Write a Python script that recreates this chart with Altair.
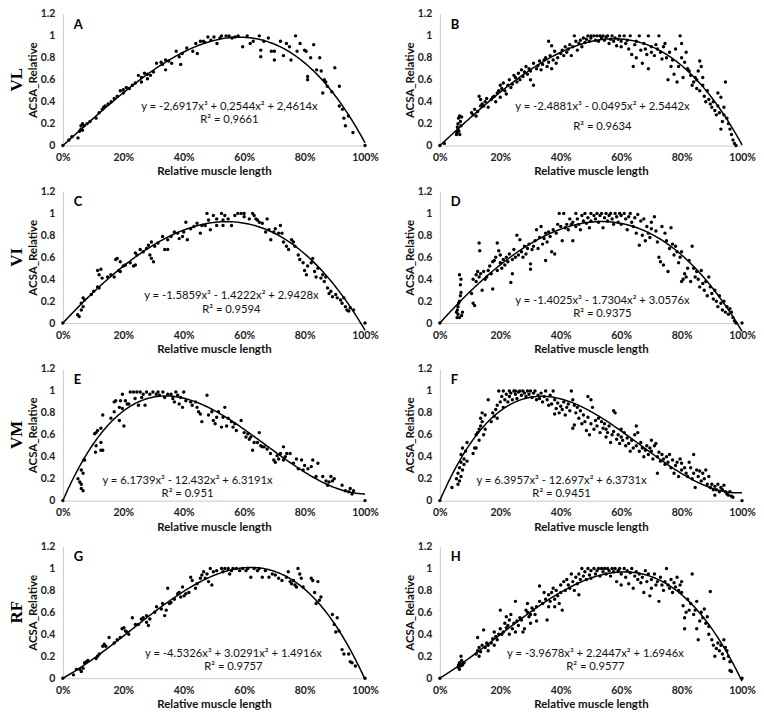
import altair as alt
import pandas as pd

# ---------------- data (x in % of muscle length, y = ACSA relative) ----------------
A_POINTS = [(0,0),(2,0.05),(3,0.08),(5,0.07),(5.5,0.13),(6,0.15),(6,0.18),(6.5,0.14),(6.5,0.2),(7,0.18),(8,0.2),(9,0.22),
            (11,0.25),(12,0.3),(13,0.33),(13.5,0.35),(14,0.36),(15,0.38),(16,0.4),(17,0.43),(18,0.45),(19,0.5),(20,0.48),
            (20,0.51),(21,0.53),(22,0.52),(23,0.55),(24,0.57),(25,0.64),(26,0.58),(26,0.62),(27,0.66),(28,0.61),(28,0.65),
            (29,0.64),(30,0.67),(31,0.75),(32.5,0.76),(33,0.74),(34,0.69),(34,0.78),(35,0.77),(36,0.75),(37.5,0.86),
            (38.5,0.81),(39,0.74),(39.5,0.84),(41,0.89),(43,0.86),(44,0.93),(44.5,0.84),(45.5,0.95),(46.5,0.95),(47,0.94),
            (48,0.99),(49,0.96),(50,0.99),(51,0.93),(52,0.98),(52.5,1.0),(54,1.0),(55,1.0),(56,0.98),(57,0.99),(58,1.0),
            (59.5,0.9),(61,1.0),(62,0.93),(63,0.95),(65,1.0),(65.5,0.81),(65.5,0.87),(66.5,0.95),(68,0.98),(69,0.86),
            (70,0.78),(70,0.86),(72,0.95),(73,0.82),(74,0.93),(75,0.9),(75.5,0.78),(77,1.0),(77.5,0.86),(78.5,0.93),
            (80,0.87),(80.5,0.86),(81,0.63),(81,0.6),(82,0.8),(83,0.92),(84,0.69),(85,0.8),(85.5,0.68),(86,0.48),
            (86.5,0.6),(87,0.58),(87.5,0.54),(89,0.49),(90,0.71),(91.5,0.54),(91.5,0.36),(92.5,0.33),(93,0.25),
            (93.5,0.18),(94.5,0.27),(96,0.12),(100,0)]

B_POINTS = [(0,0),(1.5,0.02),(5.5,0.1),(5.7,0.12),(6,0.15),(6,0.2),(6.2,0.25),(6.5,0.27),(6.8,0.22),(7,0.18),(6.3,0.13),
            (7.2,0.26),(5.8,0.17),(6.6,0.1),(10.5,0.3),(11,0.28),(12,0.27),(12.5,0.31),(11.5,0.33),(13,0.45),(13.5,0.42),
            (14,0.38),(14.5,0.36),(15,0.4),(15.5,0.43),(16,0.35),(13.5,0.36),(17,0.42),(17.5,0.44),(18,0.45),(18.5,0.4),
            (19,0.48),(19.5,0.5),(20,0.55),(20.5,0.52),(21,0.57),(21.5,0.5),(22,0.47),(22.5,0.55),(20,0.44),(23,0.6),
            (23.5,0.53),(24,0.56),(24.5,0.64),(25,0.62),(25.5,0.58),(26,0.66),(26.5,0.6),(27,0.69),(27.5,0.63),(28,0.67),
            (28.5,0.72),(29,0.65),(29.5,0.7),(30,0.68),(30,0.6),(31,0.75),(31,0.55),(32,0.7),(32.5,0.73),(33,0.77),
            (33.5,0.69),(34,0.74),(34.5,0.78),(35,0.8),(35.5,0.72),(36,0.76),(36.5,0.82),(37,0.91),(37.5,0.78),(38,0.86),
            (38.5,0.75),(39,0.8),(40,0.84),(40.5,0.87),(36,0.95),(37,0.7),(41,0.82),(41.5,0.9),(42,0.85),(42.5,0.88),
            (43,0.92),(43.5,0.82),(44,0.9),(44.5,1.0),(45,0.95),(45.5,0.87),(46,0.93),(46.5,0.96),(47,0.9),(47.5,0.98),
            (48,0.94),(48.5,0.97),(49,1.0),(49.5,0.95),(50,0.98),(50,1.0),(51,1.0),(51.5,0.96),(52,1.0),(52.5,0.95),
            (53,1.0),(53.5,0.98),(54,1.0),(54.5,0.96),(55,0.99),(55.5,1.0),(56,0.93),(56.5,0.97),(57,1.0),(57.5,0.95),
            (58,0.98),(58.5,0.91),(59,0.97),(59.5,1.0),(60,0.95),(60,0.9),(61,1.0),(61.5,0.93),(62,0.96),(62.5,0.88),
            (63,1.0),(63.5,0.83),(64,0.72),(64.5,0.92),(65,0.8),(65,0.95),(66,1.0),(66.5,0.87),(67,0.75),(67.5,0.93),
            (68,0.88),(68.5,0.83),(69,1.0),(69,0.7),(70,0.9),(70,0.85),(71,0.82),(71.5,0.92),(72,0.88),(72.5,1.0),
            (73,0.85),(73.5,0.79),(74,0.9),(74.5,0.93),(75,0.8),(75.5,0.6),(76,0.85),(76.5,0.72),(77,0.78),(77.5,0.65),
            (78,0.88),(78.5,0.58),(79,0.72),(79.5,1.0),(80,0.93),(80,0.8),(80.5,0.62),(81,0.76),(81.5,0.85),(82,0.7),
            (82.5,0.68),(83,0.64),(83.5,0.55),(84,0.58),(84.5,0.62),(85,0.52),(85.5,0.68),(86,0.5),(86.5,0.72),(86,0.77),
            (87,0.55),(87.5,0.45),(88,0.4),(88.5,0.5),(89,0.42),(89.5,0.38),(90,0.35),(90.5,0.4),(91,0.32),(91.5,0.28),
            (92,0.36),(92.5,0.3),(93,0.15),(93,0.44),(93.5,0.22),(94,0.28),(94.5,0.58),(95,0.25),(95.5,0.2),(96,0.15),
            (96.5,0.1),(97,0.05),(97.5,0.02),(98,0.0),(94,0.35),(92,0.48),(87,0.62),(85,0.6)]

C_POINTS = [(0,0),(4.9,0.076),(5.4,0.06),(6.1,0.12),(6.7,0.15),(6.1,0.18),(7.2,0.21),(6.7,0.23),(9.4,0.26),(10.2,0.29),
            (11.5,0.33),(12,0.32),(11.5,0.48),(12.6,0.49),(12,0.44),(13,0.41),(14.8,0.42),(15.9,0.44),(17,0.42),(17.5,0.58),
            (18,0.59),(19,0.56),(18.5,0.48),(19,0.47),(20,0.52),(20.7,0.53),(22.3,0.55),(23.4,0.52),(24,0.53),(24,0.64),
            (24.5,0.62),(25.6,0.67),(26.6,0.65),(27.7,0.68),(28.3,0.71),(28.8,0.62),(29.3,0.59),(30,0.56),(30.4,0.7),
            (29.3,0.74),(31.5,0.73),(33,0.79),(33.7,0.67),(34.7,0.67),(34.7,0.76),(35.8,0.79),(36.9,0.83),(38,0.82),
            (38.5,0.77),(39.6,0.79),(40,0.83),(40.7,0.92),(41.2,0.76),(42.3,0.86),(43.4,0.88),(44.4,0.91),(45.5,0.82),
            (46,0.89),(47.1,0.89),(47.7,1.0),(48.2,0.94),(48.8,0.85),(49.8,0.98),(50.9,0.95),(50.9,0.89),(52.5,1.0),
            (53,0.94),(53,0.89),(53.6,0.98),(54.7,0.95),(55.8,0.89),(56.9,0.98),(57.9,1.0),(59,1.0),(60,1.0),(60,0.97),
            (61.7,0.95),(62.8,1.0),(63.3,0.98),(63.9,0.95),(64.4,0.94),(65,0.92),(66,0.91),(67.1,0.83),(67.6,0.95),
            (68.2,0.85),(68.8,0.76),(69.8,0.83),(70.3,0.86),(71.4,0.82),(72,0.89),(72.5,0.82),(73,0.74),(74,0.7),
            (74.7,0.67),(75.7,0.76),(76.3,0.74),(76.8,0.7),(77.9,0.62),(78.4,0.58),(79.5,0.55),(80,0.48),(80.6,0.44),
            (81,0.52),(82.2,0.55),(82.7,0.59),(83.3,0.47),(83.8,0.42),(84.4,0.5),(85.4,0.41),(86,0.44),(86.5,0.38),
            (87,0.42),(87.6,0.32),(88.1,0.27),(88.7,0.29),(89.2,0.24),(90.3,0.26),(90.8,0.23),(91.9,0.21),(92.4,0.18),
            (93,0.23),(93.5,0.15),(94,0.12),(94.6,0.11),(95.1,0.14),(96.2,0.12),(100,0)]

D_POINTS = [(0,0),(5.5,0.1),(5.8,0.12),(6,0.15),(6,0.08),(6.2,0.18),(6.5,0.2),(6.5,0.05),(6.8,0.25),(7,0.28),(6.8,0.35),
            (6.5,0.44),(7,0.4),(7.2,0.07),(7.5,0.1),(5.7,0.05),(10.5,0.27),(11,0.18),(11.5,0.16),(11,0.4),(12,0.44),
            (12,0.38),(12.5,0.47),(13,0.42),(13,0.73),(13.2,0.66),(13.5,0.45),(14,0.3),(14.5,0.47),(15,0.4),(15.5,0.42),
            (16,0.48),(16.5,0.52),(17,0.45),(17.5,0.31),(17.5,0.56),(18,0.57),(18.5,0.6),(19,0.48),(19,0.73),(19.5,0.66),
            (20,0.55),(20,0.62),(20.5,0.5),(21,0.58),(21.5,0.53),(22,0.6),(22.5,0.56),(23,0.63),(23.5,0.37),(24,0.45),
            (24,0.58),(24.5,0.67),(25,0.6),(25.5,0.8),(26,0.62),(26.5,0.76),(27,0.65),(27.5,0.6),(28,0.7),(28.5,0.63),
            (29,0.68),(29.5,0.72),(30,0.49),(30,0.54),(30.5,0.67),(31,0.7),(31.5,0.75),(32,0.85),(32.5,0.68),(33,0.78),
            (33.5,0.88),(34,0.72),(34.5,0.77),(35,0.82),(35,0.57),(35.5,0.74),(36,0.83),(36.5,0.79),(37,0.65),(37.5,0.85),
            (38,0.63),(38.5,0.82),(39,0.9),(39.5,1.0),(40,0.88),(40.5,0.75),(41,1.0),(41.5,0.87),(42,0.9),(42.5,0.85),
            (43,0.95),(43.5,0.9),(44,0.75),(44,0.92),(45,1.0),(45,0.88),(45.5,0.95),(46,0.9),(46.5,0.85),(47,0.98),
            (47.5,0.93),(48,1.0),(48.5,0.91),(49,0.96),(49.5,0.87),(50,1.0),(50,0.93),(51,0.98),(51.5,0.95),(52,1.0),
            (52.5,0.92),(53,0.98),(53.5,1.0),(54,0.87),(54.5,0.96),(55,1.0),(55.5,0.93),(56,0.98),(56.5,1.0),(57,0.95),
            (57.5,0.9),(58,1.0),(58.5,0.97),(59,0.92),(59.5,1.0),(60,0.98),(60,0.9),(61,1.0),(61.5,0.95),(62,0.85),
            (62.5,0.97),(63,1.0),(63.5,0.92),(64,0.88),(64.5,0.96),(65,0.82),(65.5,0.99),(66,0.71),(66.5,0.93),(67,0.8),
            (67.5,0.95),(68,0.75),(68.5,0.88),(69,0.82),(69.5,0.78),(70,0.92),(70,0.86),(71,0.97),(71.5,0.84),(72,0.74),
            (72.5,0.6),(73,0.56),(73.5,0.88),(74,0.53),(74.5,0.82),(75,0.75),(75.5,0.47),(76,0.68),(76.5,0.87),(77,0.72),
            (77.5,0.62),(78,0.7),(78.5,0.65),(79,0.55),(79.5,0.6),(80,0.38),(80,0.65),(80.5,0.4),(81,0.45),(81.5,0.42),
            (82,0.5),(82.5,0.57),(83,0.38),(83.5,0.7),(84,0.5),(84.5,0.42),(85,0.47),(85.5,0.4),(86,0.33),(86.5,0.48),
            (87,0.36),(87.5,0.3),(88,0.38),(88.5,0.25),(89,0.42),(89.5,0.33),(90,0.27),(90.5,0.22),(91,0.3),(91.5,0.2),
            (92,0.15),(92.5,0.25),(93,0.18),(93.5,0.12),(94,0.2),(94.5,0.1),(95,0.15),(95.5,0.08),(96,0.13),(96.5,0.1),
            (97,0.05),(97.5,0.02),(98,0.0),(100,0)]

E_POINTS = [(0,0),(5,0.2),(5.6,0.17),(6.1,0.15),(6.1,0.11),(6.7,0.09),(6.1,0.28),(6.7,0.25),(7,0.37),(7.2,0.37),
            (10.5,0.61),(11,0.62),(11.5,0.64),(11,0.5),(10.8,0.44),(12.6,0.46),(13.2,0.46),(12.6,0.53),(13.2,0.78),
            (12.6,0.66),(15.9,0.75),(17,0.81),(17,0.9),(17.5,0.91),(18.7,0.73),(18.7,0.85),(19.1,0.91),(19.7,0.97),
            (19.7,0.84),(20.2,0.68),(20.7,0.91),(21.3,0.88),(21.8,0.88),(22.3,0.99),(23.4,0.99),(23.9,0.93),(24.5,0.99),
            (25,0.87),(25.6,0.99),(26.1,0.94),(26.6,0.97),(27.2,0.87),(27.7,0.99),(28.8,0.97),(29.8,0.99),(30.9,0.97),
            (31.5,0.99),(32,0.96),(33.1,0.99),(33.7,0.94),(34.7,0.97),(35.8,0.97),(36.4,0.93),(36.9,0.9),(37.4,0.99),
            (38,0.96),(38.5,0.88),(39,0.94),(39.6,0.85),(40,0.99),(40.7,0.91),(42.3,0.9),(42.8,0.87),(43.9,0.9),
            (44.4,0.85),(44.9,0.81),(45.5,0.79),(46,0.72),(47.7,0.96),(48.2,0.78),(49.3,0.81),(49.8,0.73),(50.4,0.7),
            (50.9,0.76),(51.5,0.81),(52.5,0.67),(53,0.76),(53.6,0.85),(54.2,0.68),(54.7,0.75),(55.8,0.72),(56.3,0.67),
            (56.9,0.7),(57.4,0.64),(59,0.73),(60,0.62),(60.6,0.58),(61.2,0.61),(61.7,0.56),(62.2,0.58),(62.8,0.46),
            (63.3,0.53),(64.4,0.53),(65,0.62),(65.5,0.5),(66,0.49),(66.6,0.49),(67.6,0.47),(68.7,0.43),(69.8,0.37),
            (70.3,0.35),(70.9,0.41),(71.4,0.38),(72,0.43),(73,0.37),(73,0.49),(73.6,0.4),(74.1,0.43),(75.2,0.43),
            (76.3,0.34),(77.3,0.38),(77.9,0.29),(79,0.37),(79.5,0.28),(80,0.32),(81.1,0.29),(82.2,0.31),(82.7,0.37),
            (83.8,0.22),(84.4,0.34),(86,0.22),(87.1,0.18),(87.6,0.14),(88.1,0.17),(88.7,0.22),(89.2,0.18),(89.8,0.2),
            (92.4,0.14),(93.5,0.09),(94.6,0.08),(95.1,0.11),(95.7,0.06),(96.2,0.09),(100,0)]

F_POINTS = [(0,0),(4,0.12),(5.5,0.2),(6,0.15),(6,0.25),(6.5,0.18),(6.5,0.3),(7,0.22),(7,0.35),(7,0.42),(7.5,0.48),
            (7.5,0.28),(8,0.38),(8,0.33),(8.5,0.45),(9,0.53),(9,0.36),(11,0.43),(11.5,0.48),(12,0.6),(12,0.48),
            (12.5,0.62),(13,0.65),(13,0.55),(13.5,0.75),(13.5,0.68),(14,0.8),(14,0.72),(14.5,0.6),(15,0.65),(15,0.78),
            (16,0.92),(17,0.72),(17.5,0.8),(18,0.77),(18.5,0.83),(19,0.75),(19,0.87),(19.5,1.0),(20,0.9),(20.5,0.95),
            (21,0.85),(21,1.0),(21.5,0.92),(22,0.97),(22.5,0.9),(23,1.0),(23,0.95),(23.5,0.98),(24,0.92),(24.5,1.0),
            (25,0.97),(25,1.0),(25.5,0.93),(26,0.99),(26.5,1.0),(27,0.96),(27.5,1.0),(28,0.98),(28.5,0.95),(29,1.0),
            (29.5,0.97),(30,1.0),(30.5,0.94),(31,0.98),(31.5,1.0),(32,0.92),(32.5,0.96),(33,0.93),(33.5,0.98),(34,0.9),
            (34.5,0.95),(35,1.0),(35.5,0.92),(36,0.87),(36.5,0.96),(37,0.88),(37.5,1.0),(38,0.79),(38,0.92),(38.5,0.84),
            (39,0.89),(39.5,0.8),(40,0.86),(40.5,0.83),(41,0.9),(41.5,0.78),(42,0.85),(42.5,0.88),(43,0.82),(43.5,1.0),
            (44,0.66),(44,0.92),(44.5,0.69),(44.5,0.87),(45,0.8),(45.5,0.85),(46,0.75),(46.5,0.82),(47,0.7),(47.5,0.78),
            (48,0.72),(48.5,0.64),(49,0.95),(49,0.76),(49.5,0.6),(50,0.92),(50,0.7),(50.5,0.85),(51,0.65),(51.5,0.73),
            (52,0.68),(52.5,0.75),(53,0.62),(53.5,0.72),(54,0.66),(54.5,0.7),(55,0.58),(55,0.65),(55.5,0.62),(56,0.68),
            (56.5,0.53),(57,0.6),(57.5,0.63),(57.5,0.82),(58,0.8),(58.5,0.56),(59,0.6),(59.5,0.52),(60,0.58),(60,0.65),
            (60.5,0.55),(61,0.62),(61.5,0.5),(62,0.57),(62.5,0.52),(63,0.45),(63.5,0.55),(64,0.48),(64.5,0.6),(65,0.68),
            (65,0.5),(65.5,0.62),(66,0.45),(66.5,0.53),(67,0.48),(67.5,0.4),(68,0.46),(68.5,0.5),(69,0.42),(69.5,0.48),
            (70,0.45),(70,0.55),(70.5,0.38),(71,0.5),(71.5,0.52),(72,0.4),(72,0.25),(72.5,0.44),(73,0.36),(73.5,0.42),
            (74,0.38),(74.5,0.33),(75,0.4),(75.5,0.35),(76,0.42),(76.5,0.3),(77,0.37),(77.5,0.25),(78,0.32),(78.5,0.35),
            (79,0.22),(79.5,0.38),(80,0.28),(80,0.34),(81,0.3),(81.5,0.25),(82,0.22),(82.5,0.35),(83,0.3),(83.5,0.2),
            (84,0.42),(84,0.25),(84.5,0.12),(85,0.28),(85.5,0.22),(86,0.27),(86.5,0.18),(87,0.25),(87.5,0.2),(88,0.28),
            (88.5,0.15),(89,0.22),(89.5,0.12),(90,0.15),(90.5,0.1),(91,0.05),(91,0.13),(91.5,0.1),(92,0.15),(92.5,0.08),
            (93,0.12),(93.5,0.1),(94,0.14),(94.5,0.08),(95,0.06),(95.5,0.05),(96,0.08),(96.5,0.04),(97,0.03),(100,0)]

G_POINTS = [(0,0),(3.5,0.03),(4.5,0.08),(5.6,0.08),(6.1,0.06),(6.7,0.09),(7.2,0.14),(7.8,0.15),(8.3,0.16),(11,0.18),
            (11.5,0.2),(12.1,0.22),(13.2,0.29),(13.7,0.31),(14.2,0.29),(15.3,0.37),(17,0.32),(18,0.35),(19,0.37),
            (19.6,0.45),(20.2,0.46),(20.7,0.43),(21.2,0.42),(21.8,0.4),(23,0.55),(24,0.49),(25,0.49),(26,0.54),
            (26.6,0.55),(27.7,0.57),(27.7,0.51),(28.3,0.48),(28.8,0.54),(30.4,0.6),(31,0.65),(32.6,0.63),(33,0.68),
            (33.7,0.57),(34.2,0.62),(34.7,0.82),(35.3,0.68),(35.8,0.69),(36.9,0.72),(38,0.77),(38.5,0.78),(39,0.74),
            (39.6,0.83),(40.1,0.75),(40.7,0.77),(41.7,0.78),(42.3,0.92),(42.8,0.89),(43.9,0.82),(44.4,0.86),(45.5,0.91),
            (46,0.94),(46.6,0.97),(47.1,0.91),(47.7,0.95),(48.2,0.88),(48.8,1.0),(49.3,0.85),(49.8,0.97),(50.9,0.98),
            (52.5,1.0),(53,0.97),(53.6,1.0),(54.7,1.0),(55.2,0.95),(55.8,0.98),(56.3,1.0),(57.4,1.0),(58.5,0.98),
            (59.5,1.0),(60.6,0.98),(61.2,1.0),(62.2,0.92),(63.3,1.0),(64.4,0.98),(65,1.0),(66,0.92),(67,0.98),
            (68.2,0.92),(69.3,0.95),(70.3,0.94),(71.4,0.91),(72.5,0.89),(74,0.92),(74.6,0.97),(75.2,0.88),(75.7,0.86),
            (76.3,0.89),(76.8,0.85),(77.3,0.83),(77.8,1.0),(78.4,0.95),(78.9,0.91),(79.5,0.83),(82.2,0.91),(82.7,0.89),
            (83.3,0.78),(83.8,0.68),(84.4,0.88),(84.9,0.71),(85.4,0.74),(89.2,0.58),(89.8,0.49),(90.3,0.42),(90.8,0.55),
            (91.4,0.43),(92.4,0.26),(93,0.22),(94.6,0.22),(95.1,0.15),(95.7,0.14),(96.8,0.11),(100,0)]

H_POINTS = [(0,0),(6,0.1),(6.2,0.12),(6.5,0.14),(6.8,0.11),(7,0.13),(7,0.2),(7.2,0.16),(7.5,0.12),(8,0.14),(6.5,0.08),
            (12,0.22),(12.5,0.25),(12.5,0.37),(13,0.2),(13,0.28),(13.5,0.24),(14,0.3),(14.5,0.44),(15,0.28),(15.5,0.32),
            (16,0.3),(16,0.25),(17,0.32),(17.5,0.36),(18,0.42),(18,0.3),(18.5,0.38),(19,0.35),(19.5,0.4),(20,0.62),
            (20,0.45),(20.5,0.4),(21,0.42),(21.5,0.5),(22,0.46),(22,0.56),(22.5,0.48),(23,0.53),(23,0.4),(23.5,0.58),
            (24,0.45),(24.5,0.5),(25,0.42),(25,0.7),(25.5,0.52),(26,0.48),(26.5,0.55),(27,0.53),(27.5,0.42),(28,0.45),
            (28.5,0.62),(29,0.6),(29,0.68),(29.5,0.56),(30,0.58),(30,0.5),(30.5,0.64),(31,0.62),(31.5,0.58),(32,0.65),
            (32,0.52),(33,0.84),(33,0.7),(34,0.68),(34.5,0.78),(35,0.72),(35.5,0.53),(36,0.76),(36,0.65),(36.5,0.7),
            (37,0.78),(37.5,0.82),(38,0.72),(38,0.65),(38.5,0.8),(39,0.75),(39.5,0.68),(40,0.78),(40,0.85),(40.5,0.62),
            (41,0.88),(41.5,0.8),(42,0.9),(42.5,0.85),(43,0.82),(43.5,0.95),(44,0.88),(44.5,0.8),(45,0.92),(45.5,0.86),
            (46,0.95),(46,0.76),(46.5,0.9),(47,1.0),(47.5,0.93),(48,0.97),(48.5,0.9),(49,1.0),(49.5,0.94),(50,0.98),
            (50,0.91),(51,1.0),(51.5,0.95),(52,0.98),(52.5,1.0),(53,0.93),(53.5,1.0),(54,0.97),(54.5,1.0),(55,0.95),
            (55.5,1.0),(56,0.98),(56.5,0.93),(57,1.0),(57.5,0.97),(58,1.0),(58.5,0.88),(59,0.98),(59.5,1.0),(60,0.95),
            (60,0.85),(61,1.0),(61.5,0.92),(62,0.98),(62.5,0.86),(63,0.96),(63.5,1.0),(64,0.82),(64.5,0.93),(65,0.97),
            (65.5,0.9),(66,0.95),(66.5,0.87),(67,0.92),(67.5,0.78),(68,0.98),(68.5,0.88),(69,0.95),(69.5,0.75),(70,0.9),
            (70,0.82),(71,0.95),(71.5,0.85),(72,0.88),(72.5,0.7),(73,0.92),(73.5,0.85),(74,0.8),(74.5,0.88),(75,1.0),
            (75.5,0.85),(76,0.82),(76.5,0.9),(77,0.78),(77.5,0.87),(78,0.83),(78.5,0.92),(79,0.8),(79.5,0.85),(80,0.78),
            (80,0.88),(80.5,0.66),(81,0.55),(81,0.45),(81.5,0.6),(82,0.72),(82.5,0.62),(83,0.68),(83.5,0.95),(84,0.58),
            (84.5,0.62),(85,0.45),(85,0.7),(85.5,0.35),(86,0.52),(86.5,0.6),(87,0.55),(87.5,0.63),(88,0.5),(88.5,0.56),
            (89,0.4),(89,0.47),(89.5,0.79),(90,0.35),(90.5,0.3),(91,0.2),(91.5,0.27),(92,0.32),(92.5,0.25),(93,0.3),
            (93.5,0.22),(94,0.35),(94,0.18),(94.5,0.28),(95,0.25),(95.5,0.2),(96,0.15),(96,0.07),(96.5,0.06),(100,0)]

# trendline coefficients (a*x^3 + b*x^2 + c*x) and labels, as printed on each panel
A_COEF = [-2.6917, 0.2544, 2.4614]
B_COEF = [-2.4881, -0.0495, 2.5442]
C_COEF = [-1.5859, -1.4222, 2.9428]
D_COEF = [-1.4025, -1.7304, 3.0576]
E_COEF = [6.1739, -12.432, 6.3191]
F_COEF = [6.3957, -12.697, 6.3731]
G_COEF = [-4.5326, 3.0291, 1.4916]
H_COEF = [-3.9678, 2.2447, 1.6946]

EQUATIONS = {
    "A": ("y = -2,6917x³ + 0,2544x² + 2,4614x", "R² = 0,9661"),
    "B": ("y = -2.4881x³ - 0.0495x² + 2.5442x", "R² = 0.9634"),
    "C": ("y = -1.5859x³ - 1.4222x² + 2.9428x", "R² = 0.9594"),
    "D": ("y = -1.4025x³ - 1.7304x² + 3.0576x", "R² = 0.9375"),
    "E": ("y = 6.1739x³ - 12.432x² + 6.3191x", "R² = 0.951"),
    "F": ("y = 6.3957x³ - 12.697x² + 6.3731x", "R² = 0.9451"),
    "G": ("y = -4.5326x³ + 3.0291x² + 1.4916x", "R² = 0.9757"),
    "H": ("y = -3.9678x³ + 2.2447x² + 1.6946x", "R² = 0.9577"),
}
ROW_LABELS = ["VL", "VI", "VM", "RF"]
X_TICKS = [0, 0.2, 0.4, 0.6, 0.8, 1.0]
Y_TICKS = [0, 0.2, 0.4, 0.6, 0.8, 1, 1.2]

POINTS = {"A": A_POINTS, "B": B_POINTS, "C": C_POINTS, "D": D_POINTS,
          "E": E_POINTS, "F": F_POINTS, "G": G_POINTS, "H": H_POINTS}
COEFS = {"A": A_COEF, "B": B_COEF, "C": C_COEF, "D": D_COEF,
         "E": E_COEF, "F": F_COEF, "G": G_COEF, "H": H_COEF}

# ---------------- styling / layout ----------------
W, H = 303, 132
FONT = "Lato"
EQ_SIZE = 11.3
# pixel positions of equation (eq_x, eq_y, r2_y) inside each plot
EQ_POS = {"A": (167, 93, 106), "B": (163, 93, 113), "C": (169, 105, 119), "D": (163, 110, 123),
          "E": (125, 112, 125), "F": (122, 112, 125), "G": (171, 108, 121), "H": (156, 108, 121)}


def panel(key, row_label=None):
    pts = pd.DataFrame(POINTS[key], columns=["pct", "acsa"])
    pts["x"] = pts["pct"] / 100.0
    xenc = alt.X("x:Q", scale=alt.Scale(domain=[0, 1], nice=False),
                 axis=alt.Axis(values=X_TICKS, format="%", labelFlush=False, labelOverlap=False,
                               title="Relative muscle length"))
    yenc = alt.Y("acsa:Q", scale=alt.Scale(domain=[0, 1.2], nice=False),
                 axis=alt.Axis(values=Y_TICKS, format="~g", labelOverlap=False, labelFlush=False,
                               title="ACSA_Relative"))
    dots = alt.Chart(pts).mark_circle(size=12, color="black", opacity=1).encode(x=xenc, y=yenc)

    a, b, c = COEFS[key]
    curve = alt.Chart(alt.sequence(start=0, stop=1.0001, step=0.005, as_="x")).transform_calculate(
        acsa=f"({a})*pow(datum.x,3)+({b})*pow(datum.x,2)+({c})*datum.x"
    ).mark_line(color="black", strokeWidth=1.5).encode(x=xenc, y=yenc)

    eq, r2 = EQUATIONS[key]
    ex, ey, ry = EQ_POS[key]
    txt = pd.DataFrame({"t": [key]})
    letter = alt.Chart(txt).mark_text(align="left", baseline="middle", font=FONT, fontWeight="bold",
                                      fontSize=13, color="black").encode(
        text="t:N", x=alt.value(11), y=alt.value(11))
    eq_mark = alt.Chart(pd.DataFrame({"t": [eq]})).mark_text(
        align="center", baseline="middle", font=FONT, fontSize=EQ_SIZE, color="#111").encode(
        text="t:N", x=alt.value(ex), y=alt.value(ey))
    r2_mark = alt.Chart(pd.DataFrame({"t": [r2]})).mark_text(
        align="center", baseline="middle", font=FONT, fontSize=EQ_SIZE, color="#111").encode(
        text="t:N", x=alt.value(ex), y=alt.value(ry))
    layers = [dots, curve, letter, eq_mark, r2_mark]
    if row_label is not None:
        lab = alt.Chart(pd.DataFrame({"t": [row_label]})).mark_text(
            angle=270, align="center", baseline="middle", font="Liberation Serif", fontWeight="bold",
            fontSize=17, color="black").encode(text="t:N", x=alt.value(-46), y=alt.value(H / 2))
        layers.append(lab)
    return alt.layer(*layers).properties(width=W, height=H)


rows = []
keys = [("A", "B"), ("C", "D"), ("E", "F"), ("G", "H")]
for (lk, rk), rl in zip(keys, ROW_LABELS):
    rows.append(alt.hconcat(panel(lk, rl), panel(rk), spacing=25))

chart = alt.vconcat(*rows, spacing=9).properties(padding=0).configure_view(stroke=None).configure_axis(
    grid=False, ticks=False, domainColor="#c8c8c8", domainWidth=1, labelOverlap=False,
    labelFont=FONT, labelFontWeight="bold", labelFontSize=10.5, labelColor="#222", labelPadding=7,
    titleFont=FONT, titleFontWeight="bold", titleFontSize=11.5, titleColor="#111",
).configure_axisY(titlePadding=2, labelPadding=8).configure_axisX(titlePadding=3)

chart.save("out.html", embed_options={"renderer": "svg", "actions": False})
